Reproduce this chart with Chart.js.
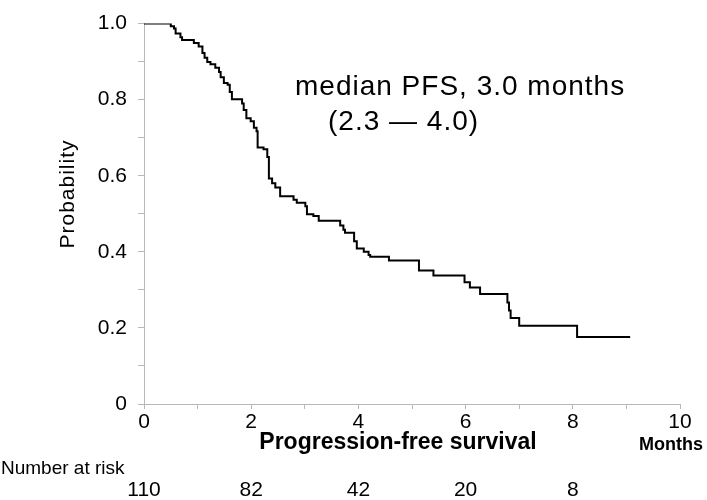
<!DOCTYPE html>
<html>
<head>
<meta charset="utf-8">
<script src="https://cdn.jsdelivr.net/npm/chart.js@4"></script>
<style>
  html, body { margin: 0; padding: 0; background: #fff; }
  #wrap { width: 707px; height: 500px; position: relative; }
</style>
</head>
<body>
<div id="wrap"><canvas id="kmChart"></canvas></div>
<script>
// months at each step, and survival probability after the step
const stepTimes = [0, 0.50, 0.56, 0.59, 0.68, 0.71, 0.93, 1.02, 1.09, 1.13, 1.18, 1.24, 1.33, 1.40, 1.43, 1.49,
    1.56, 1.60, 1.64, 1.83, 1.86, 1.91, 1.99, 2.05, 2.10, 2.12, 2.23, 2.30, 2.33, 2.39, 2.45, 2.54, 2.79,
    2.85, 3.01, 3.04, 3.16, 3.26, 3.66, 3.72, 3.75, 3.92, 3.97, 4.10, 4.19, 4.22, 4.57, 5.13, 5.40, 5.98,
    6.08, 6.27, 6.78, 6.81, 6.84, 7.00, 8.08, 9.07];
const survival = [1.0, 0.993, 0.987, 0.974, 0.964, 0.957, 0.949, 0.940, 0.923, 0.910, 0.899, 0.893, 0.884, 0.873, 0.859, 0.844,
    0.839, 0.820, 0.801, 0.790, 0.773, 0.751, 0.743, 0.726, 0.717, 0.674, 0.670, 0.649, 0.593, 0.580, 0.569, 0.546, 0.537,
    0.529, 0.520, 0.499, 0.494, 0.482, 0.469, 0.458, 0.450, 0.428, 0.409, 0.400, 0.392, 0.387, 0.377, 0.351, 0.338, 0.320,
    0.306, 0.289, 0.267, 0.246, 0.226, 0.206, 0.176, 0.176];

const riskTimes = [0, 2, 4, 6, 8];
const riskCounts = [110, 82, 42, 20, 8];

const medianText = "median PFS, 3.0 months";
const ciText = "(2.3 \u2014 4.0)";
const yTitle = "Probability";
const xTitle = "Progression-free survival";
const xUnit = "Months";
const riskTitle = "Number at risk";

const fontFamily = "'Liberation Sans', Arial, sans-serif";
const axisGray = "#b8b8b8";

const extraText = {
    id: "extraText",
    afterDraw(chart) {
        const ctx = chart.ctx;
        const xs = chart.scales.x;
        ctx.save();
        ctx.fillStyle = "#000";
        ctx.textBaseline = "middle";

        // y title
        ctx.save();
        ctx.translate(68, 194);
        ctx.rotate(-Math.PI / 2);
        ctx.textAlign = "center";
        ctx.font = "21px " + fontFamily;
        ctx.letterSpacing = "1px";
        ctx.fillText(yTitle, 0, 0);
        ctx.restore();

        ctx.letterSpacing = "0px";
        ctx.textAlign = "center";
        ctx.font = "bold 23px " + fontFamily;
        ctx.fillText(xTitle, 398, 443);

        ctx.font = "bold 18px " + fontFamily;
        ctx.fillText(xUnit, 671, 445);

        ctx.textAlign = "left";
        ctx.font = "19px " + fontFamily;
        ctx.fillText(riskTitle, 1, 469);

        ctx.textAlign = "center";
        ctx.font = "21px " + fontFamily;
        riskTimes.forEach((t, i) => {
            ctx.fillText(String(riskCounts[i]), xs.getPixelForValue(t), 490);
        });

        ctx.textAlign = "left";
        ctx.font = "28px " + fontFamily;
        ctx.letterSpacing = "1px";
        ctx.fillText(medianText, 295, 87);
        ctx.fillText(ciText, 328, 122);
        ctx.restore();
    }
};

const ctx = document.getElementById("kmChart").getContext("2d");
new Chart(ctx, {
    type: "line",
    data: {
        datasets: [{
            data: stepTimes.map((t, i) => ({ x: t, y: survival[i] })),
            borderColor: "#000",
            borderWidth: 2,
            pointRadius: 0,
            stepped: "before",
            fill: false
        }]
    },
    options: {
        responsive: true,
        maintainAspectRatio: false,
        animation: false,
        layout: { padding: { top: 15, right: 27, left: 0, bottom: 0 } },
        plugins: { legend: { display: false }, tooltip: { enabled: false } },
        scales: {
            x: {
                type: "linear",
                min: 0,
                max: 10,
                afterFit: s => { s.height = 96; },
                border: { color: axisGray, width: 1 },
                grid: { drawOnChartArea: false, tickLength: 5, color: axisGray },
                ticks: {
                    stepSize: 1,
                    padding: 1,
                    color: "#000",
                    font: { family: fontFamily, size: 21 },
                    maxRotation: 0,
                    autoSkip: false,
                    callback: v => (v % 2 === 0 ? String(v) : "")
                }
            },
            y: {
                min: 0,
                max: 1,
                afterFit: s => { s.width = 144; },
                border: { color: axisGray, width: 1 },
                grid: { drawOnChartArea: false, tickLength: 6, color: axisGray },
                ticks: {
                    stepSize: 0.1,
                    padding: 11,
                    color: "#000",
                    font: { family: fontFamily, size: 21 },
                    autoSkip: false,
                    callback: v => {
                        const k = Math.round(v * 10);
                        if (k % 2 !== 0) return "";
                        return k === 0 ? "0" : (k / 10).toFixed(1);
                    }
                }
            }
        }
    },
    plugins: [extraText]
});
</script>
</body>
</html>
